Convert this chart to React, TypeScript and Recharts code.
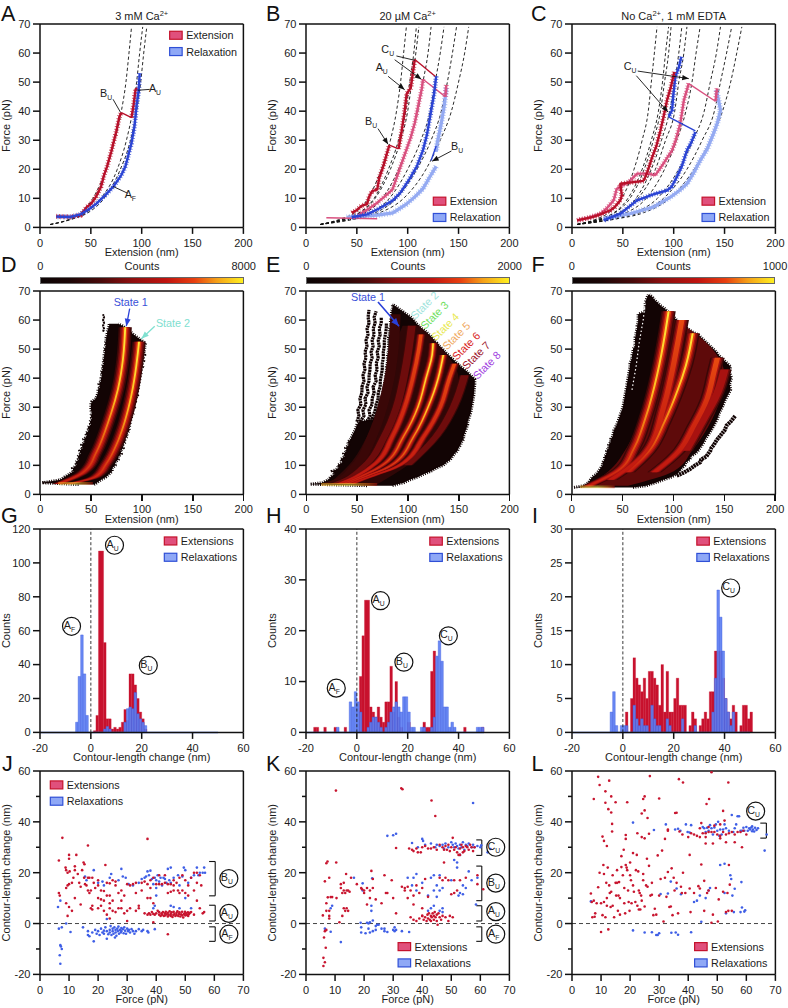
import {
  ComposedChart,
  Area,
  Bar,
  Line,
  Scatter,
  XAxis,
  YAxis,
  ReferenceLine,
  ReferenceDot,
  ReferenceArea,
} from "recharts";

const FONT = "'Liberation Sans', Arial, sans-serif";
const INK = "#1c1c1c";
const RED = "#b8102a";
const PINK = "#d9507f";
const BLUE = "#2b44d4";
const SKY = "#94aaf2";

const PLOT = 203.4;
const W = 40 + PLOT + 20;
const H = 24 + PLOT + 36;
const COL = [40.3, 306.3, 571.7];
const ROW = [24, 290.6, 529.3, 771.3];

type Pair = [number, number];
const rows = (p: Pair[]) => p.map(([x, y]) => ({ x, y }));

// --- force-extension traces, [extension, force]
const wlcForce = [1, 3, 5, 10, 20, 30, 40, 50, 60, 69];
const wlcA = [
  [10, 30, 40, 52, 65, 73.5, 80, 84.5, 87.5, 90],
  [10, 32, 45, 60, 76, 85, 91, 95, 98, 101],
  [10, 33, 47, 63, 79, 89, 95, 99, 102, 105],
];
const wlcB = [
  [14, 35, 48, 61, 74, 83, 89, 93, 96, 98.7],
  [14, 38, 52, 67, 81, 91, 98, 102, 106, 108.5],
  [14, 38, 53, 68, 83, 93, 100, 104, 108, 111],
  [14, 41, 58, 75, 91, 102, 110, 115, 120, 123],
  [14, 44, 63, 82, 100, 113, 122, 127, 132, 135.7],
  [14, 47, 68, 89, 109, 123, 133, 139, 144, 148],
  [14, 50, 72, 96, 118, 132, 143, 150, 156, 160],
];
const wlcC = [
  [5, 25, 36, 49, 61, 69, 75, 78, 81, 83.6],
  [5, 28, 41, 55, 69, 78, 85, 89, 92, 95],
  [5, 28, 42, 57, 71, 80, 87, 91, 95, 97.4],
  [5, 31, 46, 63, 78, 88, 96, 101, 105, 108],
  [5, 32, 48, 65, 82, 92, 101, 105, 110, 113],
  [5, 35, 53, 73, 91, 103, 112, 118, 122, 126],
  [5, 40, 61, 84, 105, 119, 130, 136, 142, 146],
  [5, 43, 66, 90, 113, 128, 140, 146, 152, 157],
  [5, 45, 70, 96, 120, 136, 148, 156, 162, 167],
];

const aRed1: Pair[] = [[16,3.8],[30,3.6],[40,4.2],[46,7],[50,8],[55,10.5],[60,14],[63,18],[66,21],[70,26],[75,33],[78,38],[80,39.5]];
const aRed2: Pair[] = [[90,37.8],[92,42],[94,47.5],[96,47.7]];
const aRip: Pair[] = [[80,39.5],[90,37.8]];
const aBlue: Pair[] = [[98,53],[97,47],[95,42],[93,35],[90,29],[87,25],[84,21],[80,18],[72,14],[64,11],[55,8],[47,6],[40,4.5],[30,3.6],[16,3.7]];

const bRed1: Pair[] = [[45,5],[50,6],[55,7.5],[60,8],[62,10.5],[65,12.5],[70,13],[72,17],[76,21],[80,26],[82,28.3]];
const bRed2: Pair[] = [[91,27],[94,33],[97,40],[99,46],[103,48],[105,53],[107,57.8]];
const bRedRip1: Pair[] = [[82,28.3],[91,27]];
const bRedRip2: Pair[] = [[107,57.8],[127,52]];
const bPinkTail: Pair[] = [[20,3.3],[70,3]];
const bPink1: Pair[] = [[50,3.5],[55,5],[62,6.5],[70,8.5],[77,10.5],[85,13],[90,18],[97,25],[103,31],[107,36],[111,43],[114,48],[115,51]];
const bPinkRip: Pair[] = [[115,51],[137,45]];
const bPink2: Pair[] = [[137,45],[138,49]];
const bBlue1: Pair[] = [[128,52],[126,46],[123,40],[119,32],[115,26.5],[109,21],[102,16.8],[93,12],[85.5,9.3],[72,6.5],[60,4.5],[45,3.5]];
const bSky1: Pair[] = [[138,48],[136,42],[133,35.7],[129,29],[128,26]];
const bSkyRip: Pair[] = [[128,28],[123,23]];
const bSky2: Pair[] = [[128,21],[122,17.5],[115,13.3],[107,10.5],[98.7,8],[85.5,5],[70,4.2],[40,3.5]];

const cRed1: Pair[] = [[100.6,53.5],[97,48],[93.4,43.7],[90,38],[87,33.4],[83,28],[78.7,24],[74,19],[70.5,16]];
const cRed2: Pair[] = [[70.5,16],[47.5,15],[49,11],[47.5,9.3],[42,7],[37.7,5.9],[28,4.5],[21,3.6],[5,2.4]];
const cPink1: Pair[] = [[142.6,47.8],[141,43.4]];
const cPinkRip: Pair[] = [[141,43.4],[114.8,49.5]];
const cPink2: Pair[] = [[114.8,49.5],[110,43.7],[106.5,35.7],[102,30],[98.4,26.5],[90,22],[82,18],[73.8,18.5],[64,18.5],[55.7,15.6],[44,13.3],[41,9.3],[34,6.5],[28,4.7],[15,3.2],[5,2.4]];
const cBlue1: Pair[] = [[107.5,58.7],[105,55],[101.6,51.8],[99.5,45],[98.4,40.3],[95,38]];
const cBlueRip: Pair[] = [[95,38],[121.3,33.2]];
const cBlue2: Pair[] = [[121.3,32.8],[117,29],[113,26.5],[108,21],[103,17.3],[98,14],[93.4,12.7],[80,11.4],[64,9.3],[47.5,4.7],[31,2.4]];
const cSky1: Pair[] = [[142,47.2],[144,44],[146,40.3],[143,36],[139,32.2],[133,27],[126,23],[120,19],[113,15],[105,12.5],[96.7,10.4],[80,7],[57,4.7],[31,3]];

// --- density panels: [force, extension]
const dForce = [3.4,4,5,6,7,8,9,10,11,12,13,14,15,16,17,18,19,20,21,22,23,24,25,26,27,28,29,30,31,32,33,34,35,36,37,38,39,40,41,42,43,44,45,46,47,48,49,50,51,52,53,54,55,56,57,58,58.7];
const dLeft = [38,2,20,24,29,33,32,36,35,38,37,40,39,42,41,44,43,46,45,48,47,50,49,51,50,51,50,50,50,51,55,56,57,57,59,58,60,60,61,60,62,61,63,62,63,63,64,63,65,64,65,65,66,66,67,68,68];
const dRight = [53,56,60,65,68,71,71,74,74,77,77,80,79,82,81,84,83,86,85,88,87,89,88,90,90,92,91,93,92,94,94,96,95,97,96,98,97,99,98,100,99,101,100,102,101,103,102,103,103,104,100,96,92,89,85,81,77];
const dTip: Pair[] = [[56,62],[57,63],[58,62],[59,63],[60,62],[61,63],[62,62]];
const dState1: Pair[] = [[3.6,18],[7.5,42.3],[14.5,55.4],[21.4,63.6],[28,70],[36.3,76.7],[46.6,81.6],[57.5,83.8]];
const dState2: Pair[] = [[3.6,28],[6,54],[10.5,65],[17,75],[25,83.3],[34,89.8],[44.5,94.8],[52.5,97.4]];

const eForce = [3,3.5,4,5,6,7,8,9,10,11,12,13,14,15,16,17,18,19,20,22,24,25,26,28,30,32,34,36,38,39.7,41,42,43,44,45,46,47,48,49,50,51,52,53,54,55,56,57,58,59,60,61,62,63,64,65,65.5];
const eLeft = [60,4,16,22,24,28,26,32,31,36,34,38,37,40,39,42,41,44,45,48,50,52,68,70,72,73,75,76,77,78,78,79,79,79,80,80,80,80,81,81,81,81,81,81,82,82,82,83,83,83,84,84,84,85,85,85];
const eRight = [85,90,96,102,110,116,123,128,135,138,142,144,146,149,150,152,153,155,155,157,159,159,160,162,163,164,165,165.5,166,166,162,159,156,152,149,146,143,140,137,134.6,131,129,126,124,121,118,114,111,108,106,103,99,95,91,87,85];
const eBaseF = [3.5,10,20,30,40,50,58];
const eBaseL = [22,42,60,72,80,86,95];
const eBaseR = [70,100,130,148,150,134,111];
const eStreaks: Pair[][] = [
  [[25,50],[27,52],[29,51],[31,54],[33,53],[35,55],[37,55],[39,57],[41,56],[43,58],[45,57],[47,59],[49,58],[51,60],[53,59],[55,61],[57,60],[59,62],[61,61],[63.5,62]],
  [[25,53],[27,57],[29,56],[31,59],[33,58],[35,61],[37,60],[39,62],[41,62],[43,63],[45,63],[47,65],[49,64],[51,66],[53,65],[55,67],[57,66],[59,68],[61,67],[63,69]],
  [[25,60],[27,63],[29,62],[31,65],[33,65],[35,67],[37,66],[39,69],[41,68],[43,70],[45,69],[47,71],[49,70],[51,72],[53,71],[55,73],[57,72],[59,74],[61,74]],
  [[25,64],[27,66],[29,68],[31,69],[33,71],[35,71],[37,73],[39,73],[41,74],[43,75],[45,75],[47,76],[49,76],[51,77],[53,77],[55,78],[57,79],[59,79]],
];
const eStates: Pair[][] = [
  [[3.6,20],[5,32],[10,49],[20,65],[30,75],[40,82],[50,86],[62,88]],
  [[3.6,28],[5,38],[10,58],[20,77],[30,89],[40,96],[50,101],[58,104]],
  [[3.6,32],[5,42],[10,66],[20,85],[30,97],[40,105],[50,111],[55,113]],
  [[3.6,36],[5,46],[10,75],[20,96],[30,110],[40,118],[48,124],[52,125]],
  [[3.6,40],[5,50],[10,84],[20,106],[30,120],[40,130],[48,135]],
  [[3.6,45],[5,55],[10,92],[20,116],[30,132],[40,141],[45,146]],
  [[10,100],[20,128],[30,145],[41,156]],
];

const fForce = [2.4,3,4,5,6,7,8,9,10,11,12,13,14,15,16,17,18,19,20,22,24,26,28,30,32,34,36,38,40,42,44,45,46,47,48,49,50,51,52,53,54,55,56,57,58,59,60,61,62,63,64,65,66,67,68,68.7];
const fLeft = [2,12,16,18,20,24,26,28,30,30,32,32,34,34,36,36,38,38,40,41,44,46,48,50,51,52,53,54,55,56,57,57,58,59,59,60,60,62,62,62,62,63,63,64,64,65,65,65,65,72,72,72,72,73,74,75];
const fRight = [60,73,82,90,98,103,106,108,111,112,116,117,121,124,126,128,130,131,133,137,140,143,145,148,150,153,156,155,157,155,156,153,150,147,144,142,139,136,133,130,127,124,118,114,110,106,103,100,97,94,91,87,84,81,79,76];
const fBaseF = [3,8,15,26,41,50,60];
const fBaseL = [14,36,52,66,78,85,98];
const fBaseR = [55,100,118,138,150,138,103];
const fStreak: Pair[] = [[6.4,103],[7.5,110],[8.7,116],[10,121],[11,126],[12,127],[13,132],[14,134],[15,136],[16,137],[17,139.5],[18,141],[19,143],[20.3,146],[22,150],[23.7,152],[25,156],[27,160.5]];
const fSpeck: Pair[] = [[36,59],[44,63],[52,66],[60,70],[66,72]];
const fRidges: Pair[][] = [
  [[2.8,16],[8.7,47.5],[15.6,60.6],[26,72],[41,83.6],[55.9,91.8],[63,95]],
  [[5,38],[15,74],[30,90],[45,100],[60,108]],
  [[7.6,55],[14.5,75],[25,91],[36,104],[44.4,112],[55.5,118.7]],
  [[7.6,81],[14.5,104],[23.7,120],[33,133],[42,139.5],[47,143]],
  [[15,112],[25,128],[35,143],[43,150]],
];

// --- contour-length histograms, bin left edges -18..50
const bins = [-18,-17,-16,-15,-14,-13,-12,-11,-10,-9,-8,-7,-6,-5,-4,-3,-2,-1,0,1,2,3,4,5,6,7,8,9,10,11,12,13,14,15,16,17,18,19,20,21,22,23,24,25,26,27,28,29,30,31,32,33,34,35,36,37,38,39,40,41,42,43,44,45,46,47,48,49,50];
const gExt = [0,0,0,0,0,0,0,0,0,0,0,0,0,0,0,0,0,0,0,1,10,107,107,53,8,8,2,3,2,3,6,13.5,7,34.5,34.5,28,20,12,8,2,0,0,0,0,0,0,0,0,0,0,0,0,0,0,0,0,0,0,0,0,0,0,0,0,0,0,0,0,0];
const gRel = [0,0,0,0,0,0,0,0,0,0,0,0,6,33,57.5,34.5,10,0,0,0,0,0,0,2,3.5,2,0,0,0,0,0,6,14,15,14,23.5,11,8,6,4,0,0,0,0,0,0,0,0,0,0,0,0,0,0,0,0,0,0,0,0,0,0,0,0,0,0,0,0,0];
const hExt = [0,1,1,0,0,1,0,0,0,1,0,0,0,1,0,0,0,0,0,11,19,26,26,5,4,3,5,3,2,6,6,13,4,10,3,1,0,0,2,0,0,0,0,0,2,1,1,12,16,0,0,0,0,0,0,0,0,0,0,0,1,0,0,0,0,0,0,1,0];
const hRel = [0,0,0,0,0,0,0,0,0,0,1,0,0,0,0,6,5,8,6,4,0,0,1,2,3,3,2,1,0,1,2,4,5,6,5,4,7,7,4,1,1,0,0,1,1,0,0,1,3,15,18,14,5,5,1,2,1,0,0,0,0,0,0,0,0,1,1,1,0];
const iExt = [0,0,0,0,0,0,0,0,0,0,0,0,0,0,0,0,0,0,0,3,0,5,11,8,7,6,8,5,9,9,8,7,4,10,3,9,3,3,5,8,4,4,4,0,1,3,2,0,1,2,3,2,6,6,12,12,12,8,5,3,2,4,3,0,1,4,4,2,3];
const iRel = [0,0,0,0,0,0,0,0,0,0,0,0,0,3,6,1,0,1,1,1,0,0,4,2,1,2,1,1,0,4,2,1,1,0,0,2,1,0,0,0,0,2,0,0,0,0,1,0,0,0,0,0,0,3,8,21,17,12,5,3,1,3,0,0,0,0,0,0,0];

// --- contour-length change vs force, [force, change]
const jExt: Pair[] = [[6.5,24.8],[7.7,33.7],[6.5,12],[6.8,11],[8.8,22],[9,21],[9.5,20],[10,27],[10,25.5],[10.2,20.5],[9,14],[9.5,15],[10,15.5],[11,16],[11.5,18],[12,22.5],[12,21],[12.5,27],[13,19.5],[13.5,16],[14,14.5],[14.5,21],[15,24],[15.3,23.3],[15.2,18],[15.5,15.5],[16,15],[16.5,30.7],[16.5,18],[17,18],[16.5,13],[17,12],[17.5,13],[18,18],[18.5,16],[19,14],[20,17],[20,15],[21,13],[22,12.8],[23,16],[24,15.8],[22.5,23],[25,17],[26,16.5],[26,15],[24,11],[20,10],[21,9.5],[22,9],[23,11],[24,8],[25,9],[27,12],[28,13],[30,15.5],[31,15],[32,15.5],[33,16],[35,16],[36,16.5],[37,15.5],[38,14],[37,33.3],[38,17],[39,18],[40,15.5],[41,15.5],[42,15.5],[43,16],[44,15.5],[45,15.5],[46,15],[46,17],[43,19],[41,19],[38,10],[39,8],[44,12],[45,12.5],[46,13],[47.5,13],[48,12],[49,13],[50,12],[51,11],[47,16],[48,18],[49,19],[50,17],[51,15],[52,18],[53,20],[54,20],[55,19],[54,16],[55.5,15],[53,13],[54,9],[55,6],[56,4],[56.5,4.5],[52,4.5],[9.5,3],[9,8],[10,6.5],[11,5],[12,10],[14,7.5],[17.5,6],[18,5.5],[18,7],[20,6],[21,7],[22,5],[23,3.5],[24,2],[24,6],[25,5],[26,4.5],[27,6],[28,6],[29,4],[30,5],[30,1],[31,6],[33,5],[34,7],[34,6],[36,4],[37,3.5],[37.5,4],[38,3.5],[38.5,4.5],[39,3.8],[39.5,3.5],[39,0.5],[40,4],[40.5,5],[41,4.5],[41,3.5],[41.5,3],[41.8,4],[42,3.5],[42.3,4.5],[42.6,3],[43,4],[43,3.2],[43.3,4.6],[43.6,3.6],[44,2.8],[44,4.2],[44.3,3.4],[44.6,4.8],[45,3],[45,3.8],[45.3,4.4],[45.6,2.6],[45.9,3.4],[46,4.6],[46.3,3.8],[46.6,3],[47,4.2],[47,3.4],[47.3,4.8],[47.6,3],[47.9,3.8],[48,4.4],[48.3,2.8],[48.6,3.6],[48.9,4.6],[49,3.2],[49.3,2.4],[49.6,3.8],[49.9,4.6],[50,3.2],[50.3,4],[50.6,3.4],[50.9,4.4],[51,3],[51.3,3.8],[51.6,4.2],[53,3.5],[44,-4.2],[28,9],[29,11],[33,12],[35,13],[37,10]];
const jRel: Pair[] = [[7,-8.5],[6.8,-12.5],[7,-15.8],[7.2,-9],[7.5,-10],[6.5,-2],[7.5,-1.5],[9,0],[6.2,6.5],[7,9],[10.5,-3.3],[14.8,-1.5],[16.5,-4.5],[16.5,-3],[17,-5],[18,-3.5],[18.5,-7],[19,-2.5],[19.5,-4],[20,-3],[20.5,-4.5],[21,-2],[21.5,-3.5],[22,-2.8],[22,-4],[22.5,-1.5],[23,-3],[23,-6],[23.5,-4.2],[24,-2.5],[24,-3.5],[24.3,-1],[24.6,-4.5],[25,-2],[25,-3],[25.3,-4],[25.6,-1.5],[25.8,-5.5],[26,-2.5],[26,-3.5],[26.3,-4.8],[26.6,-2],[26.8,-3],[27,-1.2],[27.2,-4],[27.5,-2.5],[27.8,-3.5],[28,-1.8],[28,-3],[28.5,-2.2],[28.8,-3.8],[29,-1.5],[29.3,-2.8],[29.6,-4],[30,-2],[30.3,-3],[30.6,-2.5],[31,-3.5],[31.5,-2.2],[32,-3],[32.5,-4],[33,-3],[34,-2.2],[35,-3],[35.5,-2.5],[37,-3],[37.3,-3.5],[39.5,-2.2],[23,1.8],[15.5,18.5],[16,17],[18.5,21],[20,16],[21.5,16.5],[22,15],[24,18],[24.5,19.5],[27,17],[28,21.5],[28.5,18.5],[29.5,18],[30.5,15.5],[32,15],[34,16],[35,17.5],[36,18],[36.5,18.5],[37,20.5],[37.5,19],[38,20.8],[38.5,17.5],[39,15.5],[39.5,18],[40,17],[40.5,19],[41,16.5],[41.5,18],[42,15],[42.5,18],[43,17.5],[43.5,16],[44,21.5],[44.5,17],[45,22],[45,16],[46,18],[47.5,19],[48,15],[49,18.5],[49.5,22],[50,21],[51,16],[52,18],[53,19],[54,22],[54.5,19],[55,20],[56,20],[56.5,22],[56.8,20],[40,11],[39.5,7],[39,6],[45,7],[46,6.5],[48,6],[52,6],[50,10],[40,14]];
const kExt: Pair[] = [[10.3,52.3],[32.8,53.2],[33.2,52.8],[43.2,48.4],[44.5,42.3],[6,-16.7],[6,-13.5],[6.5,-15.2],[6.8,-9.5],[6.2,-5.5],[6.5,-3],[7,-2.5],[5.8,3.2],[6.5,16.6],[7,23.7],[7.4,24.4],[10.4,24],[7,8],[7.5,10.3],[8,5],[7,5],[8,2],[8,3],[8.5,10.4],[9,10.4],[8,18],[10.5,10],[11.5,0.5],[12.5,3],[13,6],[13.5,5],[14,6],[14.5,5],[13,13],[13.5,12],[14,13],[14.5,13],[15,12.5],[12,14],[12,15.5],[13,16],[12.5,12],[15.5,18],[13.8,19.5],[17.5,15.5],[19,14],[19.3,13.5],[20,13],[20,12],[21,14],[22,13],[22,10],[21,7.5],[22.5,20.7],[23,17.5],[23,14],[24,9.5],[26,8],[27,19],[27.5,12],[28,12],[29.5,17],[30,10],[31,29.7],[31,4],[33,14.5],[34,14],[34,13],[35,14.5],[35,10],[36,2.5],[37,1.5],[38,1],[36,13],[37,11],[37,7.5],[38,15],[39,12],[40,6],[40,3],[41,17.5],[42,10.5],[40,14],[35.5,29.5],[36.5,29],[37,28.5],[38,29.5],[38.5,28],[39.5,28],[40,30],[41,30.5],[42,29.5],[43,29.5],[44,30],[45,29],[46,31],[47,30],[47.5,29],[48,30.5],[48.5,29],[49,31],[49.5,28.5],[50,30],[50.5,33.7],[51,29],[51.5,30],[52,28],[52.5,27],[53,29.5],[53.5,31],[54,30],[54.5,28.5],[55,30.5],[55.5,30],[56,29],[56.5,31],[57,30],[57.5,28.5],[58,30],[39,2],[40,3],[40.5,1.5],[41,2.5],[41.5,1],[41.8,3.5],[42,2],[42.3,4],[42.6,1.5],[43,3],[43,1],[43.3,2.5],[43.6,4],[44,3],[44,1.5],[44.3,4.5],[44.6,2.5],[45,3.5],[45,1],[45.3,-0.5],[45.6,4],[46,2.5],[46.5,1.5],[47,3],[48,2.5],[49,1],[49.5,3],[50.5,2.5],[46,18],[47,17],[48,18],[49,17],[50,11.5],[51,12],[51,17],[52,13],[53,17],[55,18],[59,19],[59,15.5],[61,13.5],[53,27],[54,28],[47.5,24]];
const kRel: Pair[] = [[28,34.5],[30,34.7],[31,35.3],[57.5,47.4],[36.5,31.7],[38.5,30],[40,33.3],[40.3,32.5],[41,31],[43,31.5],[44.5,30],[45,31],[46,30.5],[47,31],[47.5,29.5],[48,31.5],[49,30],[50,32],[50.5,31],[51,30],[51.5,31.5],[52,30.5],[52.5,29.5],[53,31],[53.5,30],[54,32],[54.5,29],[55,31],[55.5,30.5],[56,31.5],[57,30],[57.5,31],[58,30],[59,30.5],[60,30],[60.3,30.8],[62.5,28],[63.5,29.3],[18.8,0.3],[19,-1.5],[19,-3.5],[20.5,-3.8],[21,0.3],[21.5,0],[22,0.5],[21.5,-2],[22,-3.5],[23,-3],[24,-2.5],[24,-1],[24.5,-0.5],[25,-0.5],[23,1.2],[26,-2],[27,-2],[27,-3],[28,-3.3],[30,-2.5],[30.5,-1.5],[31,-2.5],[30.5,-3],[33,-3],[35.5,-3.3],[12,-7.3],[8.5,-3.2],[6.5,-2],[8.5,6],[9,7],[19.5,15.8],[19.5,13],[22.8,17.8],[22.5,7],[22.5,5],[16.5,18],[35,18],[37,18],[38,19.5],[36.5,15],[38,13],[40,16],[42,11],[43,18],[44,19],[44,13],[45,15],[46,19],[46,13],[45,10.5],[47,14],[47,6],[43,6],[44,7],[46,5],[47,4.5],[42,5],[50,17],[51,25],[52,22],[52,24],[53,27],[52.5,11],[54,15],[55,14],[56,20.5],[57,17],[59,18],[58.5,7.5],[53,12],[54,11.5]];
const lExt: Pair[] = [[9,57.7],[9.5,54.5],[12.8,56.2],[7.5,49],[11.5,52],[11.5,47.5],[12.5,45],[13.5,43.7],[13.5,50],[15,47.7],[13.8,39.2],[13.8,36.2],[10.5,34.2],[11,32.5],[12,30.5],[19,47.7],[18.5,34.8],[18.5,33.3],[24,43.3],[24.5,49],[25,50],[25,44.5],[26,41.5],[26.8,58],[30,49.2],[35.5,43.5],[36,43.6],[36.8,56.8],[38.2,55.5],[46.3,47],[47.2,49],[48,59.5],[52,44.3],[53.8,55.5],[22.5,35.5],[24,34],[25,33.5],[26.5,35.3],[32,33.3],[33,37],[6.5,11.8],[6.8,8.5],[7,2.5],[7.5,9],[7.8,2.7],[8,4],[8.5,8],[9,14.3],[9.5,20],[10,8],[10,-3.3],[10.5,3.3],[10.8,23],[11,19.5],[11,8.5],[11.5,2.5],[11.8,16],[12,10],[12,7],[12.3,22],[12.5,-2.3],[12.8,15],[13,12],[13.3,6.5],[13.5,12.5],[14,19],[14,7],[14.5,2.5],[15,16],[15.2,11],[15.5,21],[15.8,5],[15.5,16],[16,11],[16.2,16.3],[16.5,3.5],[16.5,10],[17,22.2],[17,26.5],[17.5,19],[17.8,29],[18,14],[18,8],[18.3,4],[18.5,23],[18.8,22],[19,21],[19.3,13],[19.5,8.5],[19.8,5],[20,19],[20,24],[20.3,17],[20.5,8],[21,27.7],[21,15],[21.3,12.5],[21.8,8.5],[22,21],[22.3,27],[22.5,7],[22.8,20.5],[23,13],[23,5.5],[23.3,12],[23.5,5.5],[23.8,11],[24,9],[24.5,19.5],[24.5,17],[25,6.7],[25.5,15],[25.8,25.5],[26,14.5],[26.5,22.7],[27,11],[27.5,16],[27.5,11.3],[28,3.3],[28.5,5.8],[29,3.5],[29.5,26.8],[30,11],[30.5,17.5],[31,28.7],[31.5,0.8],[32,18],[32.5,10.5],[33,20.3],[33.5,6.5],[34,6.7],[34.3,21.7],[34.6,3.3],[35,18],[35.3,13],[36,16],[36.5,4],[37.5,14.5],[37.8,12],[38.2,20],[39,12],[40.5,27],[40.5,13.8],[40.8,4.5],[42,12],[43.5,14.7],[44,13.8],[44.5,23.2],[45.5,16.8],[45.5,5],[46.5,12],[47,13],[48,0.3],[48.5,3.5],[49.5,14],[50.2,0.8],[50.5,9.5],[52,12.5],[53,4.5],[53.5,12],[53.8,5],[54,23],[54.3,15.3],[55,5],[33,36.5],[37,36.2],[38,35],[40,34],[41,35.5],[42,35],[43,34.5],[44,34],[45,35.5],[46,35.5],[47,36],[48,36],[49,36],[50,35],[51,34.5],[52,36],[53,35],[54,35.5],[55,36],[56,35],[57,36],[58,36],[59,36.5],[60,35],[44,37.5],[44.5,39.5],[47,38],[49,38.5],[51,39],[52.5,40.5],[46,34],[46,31.5],[48.5,31.5],[51,33.5],[53,32],[56,32],[58.5,30]];
const lRel: Pair[] = [[6.5,8.7],[21,39.7],[28.2,36.8],[32.3,39],[35.5,37],[36.5,37.3],[37.3,36.5],[39.2,39],[39.8,36],[40.5,35.8],[41,38.7],[45,38],[45.5,37.5],[46,36],[46.5,37.7],[47,36.5],[47.5,38.7],[48,37.5],[48.5,35],[49,37.8],[49.5,39],[50,36.5],[50.3,40],[50.7,34.5],[51,37],[51.5,35],[52,37],[52.5,39],[53,37.5],[54,36.5],[55,42.7],[55.5,36],[56,37.5],[56.5,39],[57,42.2],[57.5,42.2],[58,36.5],[58.5,36.5],[59,37.7],[59.3,36.5],[60,38],[60.5,36.5],[61,37.5],[61.3,37],[61.7,37.8],[62,36.3],[62,38.2],[62.3,37],[62.7,36.2],[63,37.7],[63.5,36.8],[64,37.5],[67,35],[66.3,28.7],[21,-2.7],[25,-3.5],[27.5,-3.4],[29,-4.5],[29.5,-4.5],[30,-3.8],[34.2,-3.6],[35.7,-3.5],[36.5,-4.4],[41,-3.4],[44.5,0.7],[30.5,11.6],[33,11.8],[34,16.5],[36,13.8],[37.5,11.5],[42,8.5],[43,9],[44,11],[46,10],[47,13],[47.5,14],[51,23],[52.5,23.5],[52.5,12],[53,4],[54.5,19],[54.8,17.5],[55.2,11],[56,13.7],[55.7,4.5],[58,4.5],[58.3,16.3],[58.5,6.3],[59.3,4.7],[59.6,5.2]];

function ann(key: string, x: number, y: number, main: string, sub?: string, opts: { circle?: boolean } = {}) {
  return (
    <ReferenceDot
      key={key}
      x={x}
      y={y}
      r={0}
      ifOverflow="visible"
      shape={(p: any) => (
        <g fontFamily={FONT} fill={INK}>
          {opts.circle && <circle cx={p.cx} cy={p.cy} r={9} fill="none" stroke="#111" strokeWidth={1.2} />}
          <text x={p.cx - (sub ? 2 : 0)} y={p.cy + 2.5} fontSize={10.8} textAnchor="middle">
            {main}
            {sub && (
              <tspan fontSize={6.8} dy={3}>
                {sub}
              </tspan>
            )}
          </text>
        </g>
      )}
    />
  );
}

// free text held at a data position
function tag(key: string, x: number, y: number, text: string, color: string, angle = 0) {
  return (
    <ReferenceDot
      key={key}
      x={x}
      y={y}
      r={0}
      ifOverflow="visible"
      shape={(p: any) => (
        <text
          x={p.cx}
          y={p.cy + 3.5}
          fontSize={10.8}
          fontFamily={FONT}
          fill={color}
          textAnchor="middle"
          transform={angle ? `rotate(${angle} ${p.cx} ${p.cy})` : undefined}
        >
          {text}
        </text>
      )}
    />
  );
}

function title(x: number, text: string, sup?: string, rest?: string) {
  return (
    <ReferenceDot
      key="title"
      x={x}
      y={70}
      r={0}
      ifOverflow="visible"
      shape={(p: any) => (
        <text x={p.cx} y={p.cy - 4} fontSize={11} fontFamily={FONT} fill={INK} textAnchor="middle">
          {text}
          {sup && (
            <tspan fontSize={7.5} dy={-3.5}>
              {sup}
            </tspan>
          )}
          {rest && <tspan dy={3.5}>{rest}</tspan>}
        </text>
      )}
    />
  );
}

function legend(x: number, y: number, a: string, b: string) {
  return (
    <ReferenceDot
      key="legend"
      x={x}
      y={y}
      r={0}
      ifOverflow="visible"
      shape={(p: any) => (
        <g fontFamily={FONT} fontSize={10.8} fill={INK}>
          <rect x={p.cx} y={p.cy} width={12.5} height={8} fill="#e0507c" stroke="#c4122c" strokeWidth={1.2} />
          <text x={p.cx + 16.5} y={p.cy + 8}>{a}</text>
          <rect x={p.cx} y={p.cy + 16.3} width={12.5} height={8} fill="#8fa8f6" stroke="#2f4fd6" strokeWidth={1.2} />
          <text x={p.cx + 16.5} y={p.cy + 24.3}>{b}</text>
        </g>
      )}
    />
  );
}

function seg(key: string, x1: number, y1: number, x2: number, y2: number, color = "#111", width = 0.9, arrow = false) {
  return (
    <ReferenceLine
      key={key}
      ifOverflow="visible"
      segment={[{ x: x1, y: y1 }, { x: x2, y: y2 }]}
      shape={(p: any) => {
        const dx = p.x2 - p.x1;
        const dy = p.y2 - p.y1;
        const len = Math.hypot(dx, dy) || 1;
        const ux = dx / len;
        const uy = dy / len;
        const s = 3 + width * 1.5;
        return (
          <g>
            <line x1={p.x1} y1={p.y1} x2={p.x2} y2={p.y2} stroke={color} strokeWidth={width} />
            {arrow && (
              <polygon
                fill={color}
                points={`${p.x2},${p.y2} ${p.x2 - ux * s * 1.5 - uy * s * 0.6},${p.y2 - uy * s * 1.5 + ux * s * 0.6} ${p.x2 - ux * s * 1.5 + uy * s * 0.6},${p.y2 - uy * s * 1.5 - ux * s * 0.6}`}
              />
            )}
          </g>
        );
      }}
    />
  );
}

function bracket(key: string, x1: number, x2: number, hi: number, lo: number) {
  return [
    seg(key + "a", x1, hi, x2, hi, "#111", 1.1),
    seg(key + "b", x2, hi, x2, lo, "#111", 1.1),
    seg(key + "c", x1, lo, x2, lo, "#111", 1.1),
  ];
}

const axisLine = { stroke: "#111", strokeWidth: 1.5 };
const tickStyle = { fill: INK, fontSize: 11, fontFamily: FONT };

function xAxis(ticks: number[], domain: number[], label: string, dataKey = "x", bare = false) {
  return (
    <XAxis
      key="x"
      type="number"
      dataKey={dataKey}
      domain={domain}
      ticks={ticks}
      interval={0}
      height={36}
      tickSize={6.5}
      tickMargin={5.5}
      axisLine={axisLine}
      tickLine={bare ? false : axisLine}
      tick={bare ? false : tickStyle}
      label={{ value: label, position: "insideTop", offset: 21, fill: INK, fontSize: 11, fontFamily: FONT }}
    />
  );
}

function minorTick(p: any) {
  const major = p.payload.value % 20 === 0;
  return (
    <g>
      <line x1={p.x} x2={p.x - (major ? 7 : 4)} y1={p.y} y2={p.y} stroke="#111" strokeWidth={1.5} />
      {major && (
        <text x={p.x - 9.5} y={p.y + 4} textAnchor="end" fill={INK} fontSize={11} fontFamily={FONT}>
          {p.payload.value}
        </text>
      )}
    </g>
  );
}

function yAxis(ticks: number[], domain: number[], label: string, dataKey: any = "y", minor = false, reversed = false) {
  return (
    <YAxis
      key="y"
      type="number"
      dataKey={dataKey || undefined}
      domain={domain}
      ticks={ticks}
      interval={0}
      width={40}
      reversed={reversed}
      tickSize={minor ? 0 : 7}
      tickMargin={minor ? 0 : 2.5}
      axisLine={axisLine}
      tickLine={minor ? false : axisLine}
      tick={minor ? minorTick : tickStyle}
      label={{
        value: label,
        angle: -90,
        position: "insideLeft",
        offset: 6,
        fill: INK,
        fontSize: 11,
        fontFamily: FONT,
        style: { textAnchor: "middle" },
      }}
    />
  );
}

function frame(xMax: number, yMax: number) {
  return [
    <ReferenceLine key="ft" y={yMax} stroke="#111" strokeWidth={1.5} ifOverflow="visible" />,
    <ReferenceLine key="fr" x={xMax} stroke="#111" strokeWidth={1.5} ifOverflow="visible" />,
  ];
}

function Panel({ col, row, layout = "horizontal", data, children }: any) {
  return (
    <div style={{ position: "absolute", left: COL[col] - 40, top: ROW[row] - 24 }}>
      <ComposedChart width={W} height={H} layout={layout} data={data} margin={{ top: 24, right: 20, bottom: 0, left: 0 }}>
        {children}
      </ComposedChart>
    </div>
  );
}

// ---- row 1
function wlcLines(curves: number[][]) {
  return curves.map((c, i) => (
    <Line
      key={"wlc" + i}
      data={c.map((x, j) => ({ x, y: wlcForce[j] }))}
      dataKey="y"
      type="monotone"
      dot={false}
      stroke="#111"
      strokeWidth={0.9}
      strokeDasharray="3.2 2.4"
      isAnimationActive={false}
    />
  ));
}

// noisy trace: a solid core and a short-dashed wider stroke that reads as jitter
function trace(key: string, pts: Pair[], color: string, width = 2.4) {
  return [
    <Line
      key={key + "f"}
      data={rows(pts)}
      dataKey="y"
      type="linear"
      dot={false}
      stroke={color}
      strokeWidth={width + 2.6}
      strokeDasharray="0.8 1.9"
      strokeOpacity={0.85}
      isAnimationActive={false}
    />,
    <Line
      key={key}
      data={rows(pts)}
      dataKey="y"
      type="linear"
      dot={false}
      stroke={color}
      strokeWidth={width}
      strokeLinejoin="round"
      isAnimationActive={false}
    />,
  ];
}

function rip(key: string, pts: Pair[], color: string) {
  return (
    <Line key={key} data={rows(pts)} dataKey="y" type="linear" dot={false} stroke={color} strokeWidth={1.4} isAnimationActive={false} />
  );
}

const extTicks = [0, 50, 100, 150, 200];
const forceTicks = [0, 10, 20, 30, 40, 50, 60, 70];

function ForcePanel({ col, children }: any) {
  return (
    <Panel col={col} row={0}>
      {xAxis(extTicks, [0, 200], "Extension (nm)")}
      {yAxis(forceTicks, [0, 70], "Force (pN)")}
      {frame(200, 70)}
      {children}
    </Panel>
  );
}

// ---- row 2
// each state is a stack of range areas, hottest and narrowest on top; level = how many layers it reaches
function hotBands(key: string, bands: Pair[][], halfWidths: number[], gid: string, levels: number[]) {
  const colors = ["#3a0707", "#6e0c0c", "#a81210", `url(#${gid}b)`, `url(#${gid}c)`];
  const out: any[] = [];
  halfWidths.forEach((w, layer) =>
    bands.forEach((b, i) => {
      if (layer >= levels[i]) return;
      out.push(
        <Area
          key={`${key}${layer}-${i}`}
          data={b.map(([f, v]) => ({ f, band: [v - w, v + w] }))}
          dataKey="band"
          type="monotone"
          dot={false}
          stroke="none"
          fill={colors[layer]}
          fillOpacity={1}
          isAnimationActive={false}
        />
      );
    })
  );
  return out;
}

function baseFill(key: string, forces: number[], left: number[], right: number[], color: string) {
  return (
    <Area
      key={key}
      data={forces.map((f, i) => ({ f, band: [left[i], right[i]] }))}
      dataKey="band"
      type="monotone"
      dot={false}
      stroke="none"
      fill={color}
      fillOpacity={1}
      isAnimationActive={false}
    />
  );
}

function Defs({ gid }: { gid: string }) {
  return (
    <defs>
      <linearGradient id={gid + "b"} x1="0" y1="0" x2="0" y2="1">
        <stop offset="0%" stopColor="#e84a10" />
        <stop offset="50%" stopColor="#d02a10" />
        <stop offset="100%" stopColor="#c01810" />
      </linearGradient>
      <linearGradient id={gid + "c"} x1="0" y1="0" x2="0" y2="1">
        <stop offset="0%" stopColor="#ffe93a" />
        <stop offset="45%" stopColor="#ffc020" />
        <stop offset="75%" stopColor="#f07010" stopOpacity={0.8} />
        <stop offset="100%" stopColor="#e04010" stopOpacity={0.2} />
      </linearGradient>
      <linearGradient id={gid + "s"} x1="0" y1="0" x2="1" y2="0">
        <stop offset="0%" stopColor="#ffb020" />
        <stop offset="50%" stopColor="#fff04a" />
        <stop offset="80%" stopColor="#f08018" />
        <stop offset="100%" stopColor="#b01010" />
      </linearGradient>
    </defs>
  );
}

function body(forces: number[], left: number[], right: number[]) {
  return forces.map((f, i) => ({ f, band: [left[i], right[i]], v: right[i] }));
}

function HeatPanel({ col, table, gid, children }: any) {
  return (
    <Panel col={col} row={1} layout="vertical" data={table}>
      <Defs gid={gid} />
      {xAxis(extTicks, [0, 200], "Extension (nm)", "v", true)}
      {yAxis(forceTicks, [0, 70], "Force (pN)", "f", false, true)}
      <Area
        dataKey="band"
        type="linear"
        stroke="#120404"
        strokeWidth={3}
        strokeDasharray="1 1.3"
        fill="#120404"
        fillOpacity={1}
        dot={false}
        isAnimationActive={false}
      />
      {children}
      {frame(200, 70)}
    </Panel>
  );
}

// tick row under the density panels, laid over everything so nothing can hide it
function HeatTicks({ col }: { col: number }) {
  const base = ROW[1] + PLOT;
  return (
    <>
      {extTicks.map((t) => {
        const x = COL[col] + (PLOT * t) / 200;
        return (
          <div key={t}>
            <div style={{ position: "absolute", zIndex: 5, left: x - 0.75, top: base, width: 1.5, height: 6.5, background: "#111" }} />
            <div
              style={{
                position: "absolute",
                zIndex: 5,
                left: x,
                top: base + 8.6,
                transform: "translateX(-50%)",
                font: `11px ${FONT}`,
                color: INK,
              }}
            >
              {t}
            </div>
          </div>
        );
      })}
    </>
  );
}

function jaggedLine(key: string, pts: Pair[], width: number, color = "#120404", dash = "2.2 0.6") {
  return (
    <Line
      key={key}
      data={pts.map(([f, v]) => ({ f, v }))}
      dataKey="v"
      type="linear"
      dot={false}
      stroke={color}
      strokeWidth={width}
      strokeDasharray={dash}
      isAnimationActive={false}
    />
  );
}

function ColorBar({ col, max }: { col: number; max: string }) {
  const left = COL[col];
  const top = 276.8;
  const txt: any = { position: "absolute", font: `11px ${FONT}`, color: INK, transform: "translateX(-50%)", top: 260 };
  return (
    <>
      <div style={{ ...txt, left }}>0</div>
      <div style={{ ...txt, left: left + PLOT / 2 }}>Counts</div>
      <div style={{ ...txt, left: left + PLOT }}>{max}</div>
      <div
        style={{
          position: "absolute",
          left,
          top,
          width: PLOT,
          height: 7,
          boxSizing: "border-box",
          border: "1px solid #666",
          background:
            "linear-gradient(90deg,#0c0404 0%,#1c0606 14%,#4a0a0a 30%,#8e0f0f 45%,#c01410 62%,#e84010 76%,#f5a018 87%,#fff020 100%)",
        }}
      />
    </>
  );
}

// ---- row 3
function HistPanel({ col, ext, rel, yMax, yTicks, children }: any) {
  const table = bins.map((b, i) => ({ bin: b + 0.5, ext: ext[i] || null, rel: rel[i] || null }));
  return (
    <Panel col={col} row={2} data={table}>
      {xAxis([-20, 0, 20, 40, 60], [-20, 60], "Contour-length change (nm)", "bin")}
      <XAxis xAxisId="over" type="number" dataKey="bin" domain={[-20, 60]} hide />
      {yAxis(yTicks, [0, yMax], "Counts", "")}
      <Bar dataKey="ext" barSize={2.54} fill="#c8122e" stroke="#c8122e" strokeWidth={0.3} isAnimationActive={false} />
      <Bar xAxisId="over" dataKey="rel" barSize={2.54} fill="#5d7ff2" fillOpacity={0.92} stroke="#3a58e0" strokeWidth={0.4} isAnimationActive={false} />
      <ReferenceLine ifOverflow="visible" segment={[{ x: -20, y: 0 }, { x: 50, y: 0 }]} stroke="#5d7ff2" strokeWidth={1.5} />
      <ReferenceLine x={0} stroke="#222" strokeWidth={0.9} strokeDasharray="3 2.2" />
      {frame(60, yMax)}
      {children}
    </Panel>
  );
}

// ---- row 4
const smallDot = (color: string) => (p: any) => <circle cx={p.cx} cy={p.cy} r={1.3} fill={color} />;

function ChangePanel({ col, ext, rel, children }: any) {
  return (
    <Panel col={col} row={3}>
      {xAxis([0, 10, 20, 30, 40, 50, 60, 70], [0, 70], "Force (pN)")}
      {yAxis([-20, -10, 0, 10, 20, 30, 40, 50, 60], [-20, 60], "Contour-length change (nm)", "y", true)}
      <ReferenceLine y={0} stroke="#444" strokeWidth={1} strokeDasharray="4 3" />
      <Scatter data={rows(rel)} shape={smallDot("#3f5fe6")} isAnimationActive={false} />
      <Scatter data={rows(ext)} shape={smallDot("#c8152f")} isAnimationActive={false} />
      {frame(70, 60)}
      {children}
    </Panel>
  );
}

const LETTERS: [string, number, number][] = [
  ["A", 1, 2], ["B", 266, 2], ["C", 531, 2],
  ["D", 1, 253], ["E", 266, 253], ["F", 531.5, 253],
  ["G", 1, 503.5], ["H", 266, 503.5], ["I", 532, 503.5],
  ["J", 2, 751.5], ["K", 266, 751.5], ["L", 531.5, 751.5],
];

export default function App() {
  return (
    <div style={{ position: "absolute", left: 0, top: 0, width: 788, height: 1008, background: "#fff", overflow: "hidden" }}>
      <ForcePanel col={0}>
        {wlcLines(wlcA)}
        {trace("ar1", aRed1, RED)}
        {rip("ar", aRip, RED)}
        {trace("ar2", aRed2, RED)}
        {trace("ab", aBlue, BLUE)}
        {title(100, "3 mM Ca", "2+")}
        {legend(127.5, 67.5, "Extension", "Relaxation")}
        {ann("bu", 66.9, 45.8, "B", "U")}
        {seg("l1", 71.8, 44.1, 79, 39.7)}
        {ann("au", 115, 47.5, "A", "U")}
        {seg("l2", 96.4, 47.2, 107.9, 47.5)}
        {ann("af", 90.8, 11, "A", "F")}
        {seg("l3", 71.8, 14.1, 85.9, 11.8)}
      </ForcePanel>

      <ForcePanel col={1}>
        {wlcLines(wlcB)}
        {trace("bs1", bSky1, SKY, 3.2)}
        {rip("bs", bSkyRip, BLUE)}
        {trace("bs2", bSky2, SKY, 3.2)}
        {rip("bpt", bPinkTail, PINK)}
        {trace("bp1", bPink1, PINK)}
        {rip("bp", bPinkRip, PINK)}
        {trace("bp2", bPink2, PINK)}
        {trace("bb", bBlue1, BLUE)}
        {trace("br1", bRed1, RED)}
        {rip("br", bRedRip1, RED)}
        {trace("br2", bRed2, RED)}
        {rip("br3", bRedRip2, RED)}
        {title(100, "20 µM Ca", "2+")}
        {legend(125.2, 10.4, "Extension", "Relaxation")}
        {ann("cu", 82.3, 61, "C", "U")}
        {seg("l1", 88.9, 59, 106.9, 57.5)}
        {seg("l2", 87.2, 57.7, 113.4, 51, "#111", 0.9, true)}
        {ann("au", 76.4, 54.6, "A", "U")}
        {seg("l3", 80.7, 52, 97, 47.4, "#111", 0.9, true)}
        {ann("bu", 65.9, 36, "B", "U")}
        {seg("l4", 70.8, 34, 80.7, 28.6, "#111", 0.9, true)}
        {ann("bu2", 150.5, 27.5, "B", "U")}
        {seg("l5", 143, 26.3, 124, 22.8, "#111", 0.9, true)}
      </ForcePanel>

      <ForcePanel col={2}>
        {wlcLines(wlcC)}
        {trace("cs", cSky1, SKY, 3.2)}
        {trace("cp1", cPink1, PINK)}
        {rip("cp", cPinkRip, PINK)}
        {trace("cp2", cPink2, PINK)}
        {trace("cb1", cBlue1, BLUE)}
        {rip("cb", cBlueRip, BLUE)}
        {trace("cb2", cBlue2, BLUE)}
        {trace("cr1", cRed1, RED)}
        {trace("cr2", cRed2, RED)}
        {title(100, "No Ca", "2+", ", 1 mM EDTA")}
        {legend(127.9, 10.4, "Extension", "Relaxation")}
        {ann("cu", 59, 55.2, "C", "U")}
        {seg("l1", 64.6, 53.8, 114.8, 51.2, "#111", 0.9, true)}
        {seg("l2", 63.3, 52.2, 94.4, 39.7, "#111", 0.9, true)}
      </ForcePanel>

      <ColorBar col={0} max="8000" />
      <ColorBar col={1} max="2000" />
      <ColorBar col={2} max="1000" />

      <HeatPanel col={0} gid="hd" table={body(dForce, dLeft, dRight)}>
        {jaggedLine("tip", dTip, 2)}
        {hotBands("d", [dState1, dState2], [6.5, 5, 3.6, 2.2, 0.9], "hd", [5, 5])}
        <ReferenceArea x1={18} x2={52} y1={3.3} y2={4.3} fill="url(#hds)" stroke="none" ifOverflow="visible" />
        {tag("s1", 89.2, 65.9, "State 1", "#3a50d8")}
        {seg("a1", 88.2, 63.9, 84.9, 57.9, "#2a40d8", 1.3, true)}
        {tag("s2", 130.8, 58.7, "State 2", "#80e0d0")}
        {seg("a2", 112.8, 57.9, 99.7, 53.6, "#80e0d0", 1.3, true)}
      </HeatPanel>

      <HeatPanel col={1} gid="he" table={body(eForce, eLeft, eRight)}>
        {eStreaks.map((s, i) => jaggedLine("st" + i, s, 3.2))}
        {baseFill("base", eBaseF, eBaseL, eBaseR, "#300707")}
        {hotBands("e", eStates, [5, 3.8, 2.8, 1.8, 0.8], "he", [1, 2, 4, 5, 5, 4, 2])}
        <ReferenceArea x1={15} x2={70} y1={2.9} y2={3.9} fill="url(#hes)" stroke="none" ifOverflow="visible" />
        {tag("s1", 61, 67.9, "State 1", "#3a50d8")}
        {seg("a1", 70.8, 66.2, 91.5, 57.9, "#2a40d8", 1.6, true)}
        {tag("s2", 116.7, 65, "State 2", "#a0e4dc", -45)}
        {tag("s3", 126.5, 61.6, "State 3", "#70e060", -45)}
        {tag("s4", 137, 57.6, "State 4", "#e8e850", -45)}
        {tag("s5", 148, 54.5, "State 5", "#f0a860", -45)}
        {tag("s6", 157.7, 51, "State 6", "#d81818", -45)}
        {tag("s7", 167.5, 47.8, "State 7", "#9a1028", -45)}
        {tag("s8", 178, 44.4, "State 8", "#a040e0", -45)}
      </HeatPanel>

      <HeatPanel col={2} gid="hf" table={body(fForce, fLeft, fRight)}>
        {jaggedLine("streak", fStreak, 4)}
        {jaggedLine("speck", fSpeck, 1.2, "#fff", "1.5 2.4")}
        {baseFill("base", fBaseF, fBaseL, fBaseR, "#5e0a0a")}
        {hotBands("f", fRidges, [7, 5.5, 4, 2.6, 1], "hf", [5, 4, 5, 4, 3])}
        <ReferenceArea x1={8} x2={42} y1={2.1} y2={3.1} fill="url(#hfs)" stroke="none" ifOverflow="visible" />
      </HeatPanel>

      <HistPanel col={0} ext={gExt} rel={gRel} yMax={120} yTicks={[0, 20, 40, 60, 80, 100, 120]}>
        {legend(28.9, 115.3, "Extensions", "Relaxations")}
        {ann("au", 9.3, 110.4, "A", "U", { circle: true })}
        {ann("af", -7.6, 62.6, "A", "F", { circle: true })}
        {ann("bu", 22.6, 39.5, "B", "U", { circle: true })}
      </HistPanel>

      <HistPanel col={1} ext={hExt} rel={hRel} yMax={40} yTicks={[0, 10, 20, 30, 40]}>
        {legend(28.7, 38.4, "Extensions", "Relaxations")}
        {ann("au", 9.3, 25.9, "A", "U", { circle: true })}
        {ann("bu", 18.5, 13.8, "B", "U", { circle: true })}
        {ann("cu", 36, 19, "C", "U", { circle: true })}
        {ann("af", -8.1, 8.7, "A", "F", { circle: true })}
      </HistPanel>

      <HistPanel col={2} ext={iExt} rel={iRel} yMax={30} yTicks={[0, 5, 10, 15, 20, 25, 30]}>
        {legend(29.1, 28.8, "Extensions", "Relaxations")}
        {ann("cu", 42.4, 21.3, "C", "U", { circle: true })}
      </HistPanel>

      <ChangePanel col={0} ext={jExt} rel={jRel}>
        {legend(3.55, 56.1, "Extensions", "Relaxations")}
        {bracket("b1", 58.2, 60.3, 24.4, 10.9)}
        {bracket("b2", 58.2, 60.3, 7.2, 1)}
        {bracket("b3", 58.2, 60.3, -1.3, -7)}
        {ann("bu", 65, 17.7, "B", "U", { circle: true })}
        {ann("au", 65, 4, "A", "U", { circle: true })}
        {ann("af", 65, -4.2, "A", "F", { circle: true })}
      </ChangePanel>

      <ChangePanel col={1} ext={kExt} rel={kRel}>
        {legend(31.7, -7.5, "Extensions", "Relaxations")}
        {bracket("b1", 58.6, 60.5, 32.9, 26.8)}
        {bracket("b2", 58.6, 60.5, 22.6, 9)}
        {bracket("b3", 58.6, 60.5, 7, 1)}
        {bracket("b4", 58.6, 60.5, -1.3, -7)}
        {ann("cu", 65.3, 30, "C", "U", { circle: true })}
        {ann("bu", 65.3, 15.9, "B", "U", { circle: true })}
        {ann("au", 65.3, 4.7, "A", "U", { circle: true })}
        {ann("af", 65.3, -4.2, "A", "F", { circle: true })}
      </ChangePanel>

      <ChangePanel col={2} ext={lExt} rel={lRel}>
        {legend(42.2, -7.5, "Extensions", "Relaxations")}
        {bracket("b1", 64.8, 66.9, 39.5, 33.6)}
        {ann("cu", 63.2, 44.2, "C", "U", { circle: true })}
      </ChangePanel>

      <HeatTicks col={0} />
      <HeatTicks col={1} />
      <HeatTicks col={2} />

      {LETTERS.map(([t, x, y]) => (
        <div key={t} style={{ position: "absolute", left: x, top: y, font: `21.5px ${FONT}`, color: "#111" }}>
          {t}
        </div>
      ))}
    </div>
  );
}
